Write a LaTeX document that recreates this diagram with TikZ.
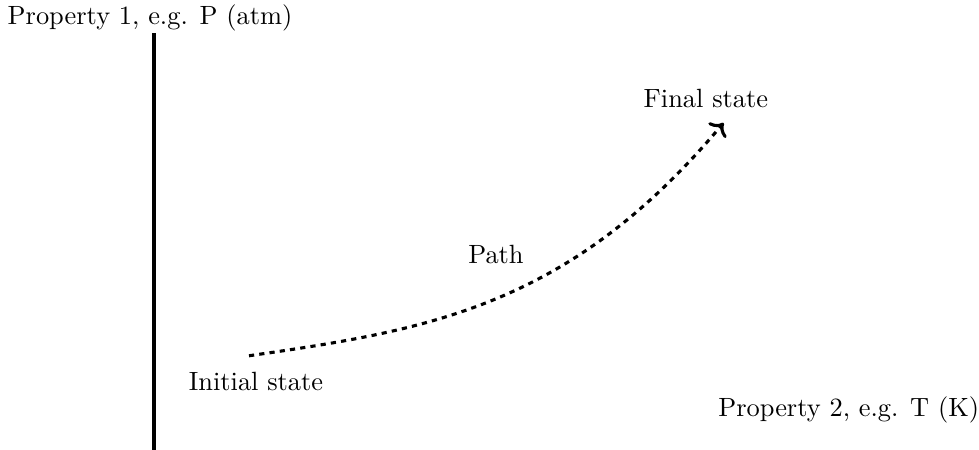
\documentclass[tikz,border=0pt]{standalone}
\usepackage{tikz}
\usetikzlibrary{arrows.meta, positioning, calc}

\begin{document}
\begin{tikzpicture}[
    axisline/.style={black,very thick},
    pathline/.style={->,black,very thick,dash pattern=on 2pt off 2pt},
    lbl/.style={font=\fontsize{10.2pt}{12pt}\selectfont,inner sep=0pt}
  ]
    \useasboundingbox (0,0) rectangle (13.3,6.11);
    % vertical property axis
    \coordinate (O) at (2.092,0);
    \coordinate (Ytop) at (2.092,5.665);
    \draw[axisline] (O)--(Ytop);
    \node[lbl] (P1) at (2.038,5.869) {Property 1, e.g. P (atm)};
    \node[lbl] (P2) at (11.53,0.543) {Property 2, e.g. T (K)};
    % states and the path between them
    \coordinate (init) at (3.383,1.277);
    \coordinate (final) at (9.83,4.44);
    \node[lbl] (IS) at (3.478,0.924) {Initial state};
    \node[lbl] (FS) at (9.59,4.768) {Final state};
    \node[lbl] (PT) at (6.738,2.649) {Path};
    \draw[pathline] (init) .. controls (5.842,1.630) and (7.730,1.943) .. (final);
  \end{tikzpicture}
\end{document}
